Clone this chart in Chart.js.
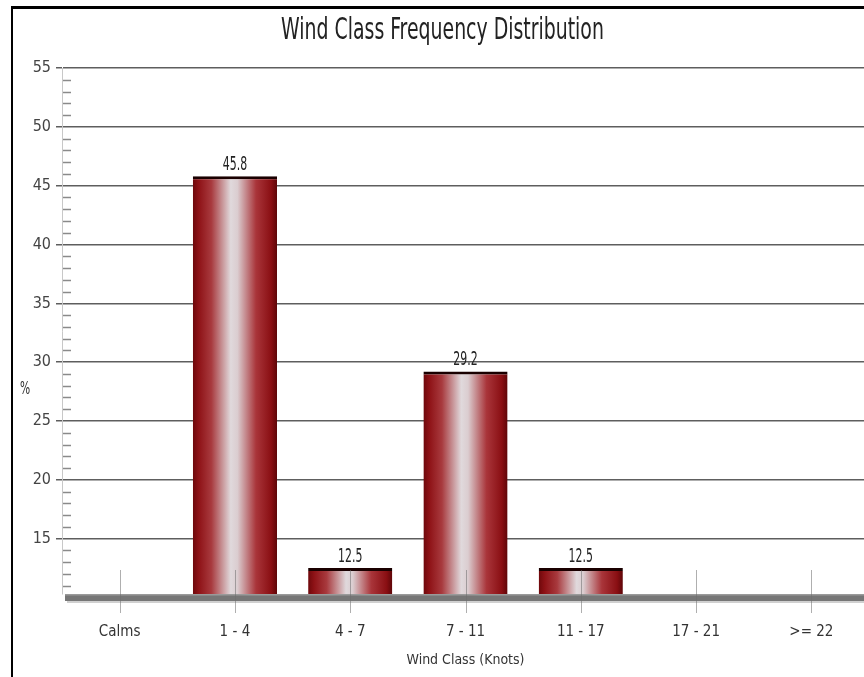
<!DOCTYPE html>
<html>
<head>
<meta charset="utf-8">
<script src="https://cdn.jsdelivr.net/npm/chart.js@4.4.1/dist/chart.umd.min.js"></script>
<style>
  html, body { margin: 0; padding: 0; background: #fff; overflow: hidden; width: 864px; height: 677px; }
  #frame { position: absolute; left: 11px; top: 6px; width: 900px; height: 700px; border-left: 2px solid #000; border-top: 3px solid #000; }
  #wrap { position: absolute; left: 0; top: 0; width: 880px; height: 677px; }
</style>
</head>
<body>
<div id="frame"></div>
<div id="wrap"><canvas id="c" width="880" height="677"></canvas></div>
<script>
const categories = ['Calms', '1 - 4', '4 - 7', '7 - 11', '11 - 17', '17 - 21', '>= 22'];
const percentValues = [null, 45.8, 12.5, 29.2, 12.5, null, null];
const yTickValues = [15, 20, 25, 30, 35, 40, 45, 50, 55];
const chartTitle = 'Wind Class Frequency Distribution';
const xTitle = 'Wind Class (Knots)';
const yTitle = '%';

const FONT = "'DejaVu Sans Condensed', 'DejaVu Sans', sans-serif";
const BAR_PCT = 0.73;

function barGradient(ctx) {
  const chart = ctx.chart;
  const area = chart.chartArea;
  if (!area || !chart.scales.x) return '#8d1215';
  const x = chart.scales.x.getPixelForValue(ctx.dataIndex);
  const w = (area.width / categories.length) * BAR_PCT;
  const g = chart.ctx.createLinearGradient(x - w / 2, 0, x + w / 2, 0);
  g.addColorStop(0, '#6e080b');
  g.addColorStop(0.07, '#8e1216');
  g.addColorStop(0.22, '#a83a3e');
  g.addColorStop(0.45, '#e0d9dc');
  g.addColorStop(0.53, '#dbcdd0');
  g.addColorStop(0.75, '#a9353a');
  g.addColorStop(0.93, '#8a0f13');
  g.addColorStop(1, '#5e0608');
  return g;
}

// draw text squeezed horizontally (the original uses a narrow face)
function narrowText(ctx, text, x, y, squeeze) {
  ctx.save();
  ctx.translate(x, y);
  ctx.scale(squeeze, 1);
  ctx.fillText(text, 0, 0);
  ctx.restore();
}

const narrowTitlePlugin = {
  id: 'narrowTitle',
  afterLayout(chart) {
    const tb = chart.titleBlock;
    if (!tb || tb._narrowed) return;
    const orig = tb.draw.bind(tb);
    tb.draw = function () {
      const ctx = chart.ctx;
      const cx = (this.left + this.right) / 2;
      ctx.save();
      ctx.translate(cx + 8, 0);
      ctx.scale(0.70, 1);
      ctx.translate(-cx, 0);
      orig();
      ctx.restore();
    };
    tb._narrowed = true;
  }
};

const decorPlugin = {
  id: 'decor',
  beforeDatasetsDraw(chart) {
    const {ctx, chartArea, scales} = chart;
    const y = scales.y;
    ctx.save();
    ctx.strokeStyle = '#8a8a8a';
    ctx.lineWidth = 1.5;
    for (let v = Math.ceil(y.min); v < y.max; v++) {
      if (v % 5 === 0) continue;
      const py = Math.round(y.getPixelForValue(v)) + 0.5;
      ctx.beginPath();
      ctx.moveTo(chartArea.left + 1, py);
      ctx.lineTo(chartArea.left + 9, py);
      ctx.stroke();
    }
    ctx.fillStyle = '#333';
    ctx.font = '17px ' + FONT;
    ctx.textAlign = 'center';
    ctx.textBaseline = 'middle';
    narrowText(ctx, yTitle, 25, y.getPixelForValue(27.7), 0.7);
    ctx.restore();
  },
  afterDatasetsDraw(chart) {
    const {ctx, chartArea, scales} = chart;
    const x = scales.x;
    ctx.save();
    // floor
    ctx.fillStyle = '#767676';
    ctx.fillRect(chartArea.left + 3, chartArea.bottom, chartArea.right - chartArea.left, 7);
    ctx.fillStyle = '#9a9a9a';
    ctx.fillRect(chartArea.left + 3, chartArea.bottom, chartArea.right - chartArea.left, 1.5);
    ctx.fillStyle = 'rgba(120,120,120,0.35)';
    ctx.fillRect(chartArea.left + 5, chartArea.bottom + 7, chartArea.right - chartArea.left, 2);
    // category tick lines crossing the floor
    ctx.strokeStyle = 'rgba(110,110,110,0.55)';
    ctx.lineWidth = 1;
    categories.forEach((c, i) => {
      const px = Math.round(x.getPixelForValue(i)) + 0.5;
      ctx.beginPath();
      ctx.moveTo(px, chartArea.bottom - 24);
      ctx.lineTo(px, chartArea.bottom + 19);
      ctx.stroke();
    });
    // value labels
    const meta = chart.getDatasetMeta(0);
    ctx.fillStyle = '#222';
    ctx.font = '19px ' + FONT;
    ctx.textAlign = 'center';
    ctx.textBaseline = 'bottom';
    meta.data.forEach((el, i) => {
      const v = percentValues[i];
      if (v === null || v === undefined) return;
      narrowText(ctx, v.toFixed(1), el.x, el.y - 2, 0.64);
    });
    ctx.restore();
  }
};

new Chart(document.getElementById('c'), {
  type: 'bar',
  data: {
    labels: categories,
    datasets: [{
      data: percentValues,
      backgroundColor: barGradient,
      borderColor: '#1a0000',
      borderWidth: {top: 3, left: 0, right: 0, bottom: 0},
      borderSkipped: 'bottom',
      barPercentage: BAR_PCT,
      categoryPercentage: 1.0
    }]
  },
  options: {
    responsive: false,
    animation: false,
    devicePixelRatio: 1,
    layout: { padding: { left: 0, right: 11, top: 0, bottom: 0 } },
    plugins: {
      legend: { display: false },
      tooltip: { enabled: false },
      title: {
        display: true,
        text: chartTitle,
        color: '#222',
        font: { family: FONT, size: 30, weight: 'normal' },
        padding: { top: 13, bottom: 19 }
      }
    },
    scales: {
      x: {
        grid: { display: true, drawOnChartArea: false, drawTicks: false },
        border: { display: false },
        ticks: { color: '#333', font: { family: FONT, size: 15 }, padding: 29, maxRotation: 0, autoSkip: false },
        title: { display: true, text: xTitle, color: '#333', font: { family: FONT, size: 14 }, padding: { top: 0, bottom: 8 } },
        afterFit(scale) { scale.height = 83; }
      },
      y: {
        min: 10.3,
        max: 55,
        afterBuildTicks(scale) { scale.ticks = yTickValues.map(v => ({ value: v })); },
        ticks: { color: '#444', font: { family: FONT, size: 16 }, padding: 5 },
        grid: { color: '#5e5e5e', lineWidth: 1.5, tickLength: 6 },
        border: { display: true, color: '#c8c8c8', width: 1 },
        afterFit(scale) { scale.width = 62; }
      }
    }
  },
  plugins: [narrowTitlePlugin, decorPlugin]
});
</script>
</body>
</html>
